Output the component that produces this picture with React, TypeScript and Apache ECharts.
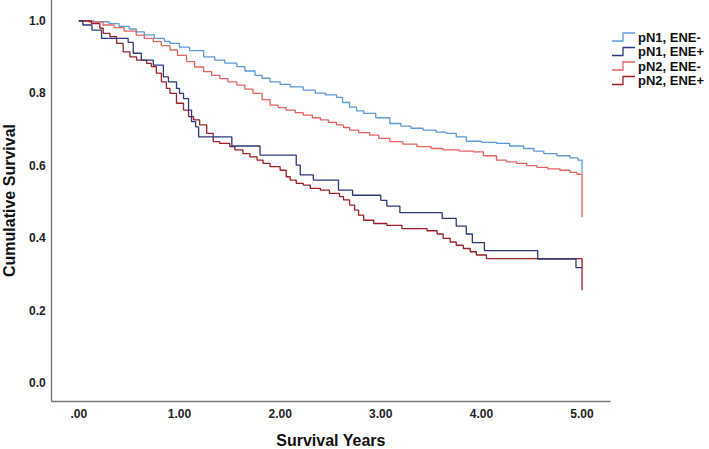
import React, { useEffect, useRef } from "react";
import * as echarts from "echarts";

const seriesNames = ["pN1, ENE-", "pN1, ENE+", "pN2, ENE-", "pN2, ENE+"];
const seriesColors = ["#5d9bd8", "#2b3b80", "#e46462", "#9e1f27"];

const xTicks = [0, 1, 2, 3, 4, 5];
const yTicks = [0, 0.2, 0.4, 0.6, 0.8, 1.0];

const pN1EneNeg: [number, number][] = [
  [0, 1.0], [0.15, 0.998], [0.3, 0.993], [0.4, 0.985], [0.5, 0.978], [0.57, 0.97],
  [0.65, 0.962], [0.75, 0.952], [0.85, 0.944], [0.905, 0.938], [1.0, 0.928], [1.1, 0.918],
  [1.24, 0.901], [1.35, 0.892], [1.45, 0.884], [1.57, 0.874], [1.65, 0.862], [1.75, 0.85],
  [1.82, 0.842], [1.9, 0.832], [2.0, 0.825], [2.1, 0.818], [2.23, 0.809], [2.35, 0.801],
  [2.45, 0.796], [2.56, 0.789], [2.62, 0.775], [2.69, 0.762], [2.76, 0.752], [2.83, 0.745],
  [2.95, 0.733], [3.09, 0.717], [3.2, 0.71], [3.3, 0.704], [3.42, 0.699], [3.55, 0.693],
  [3.65, 0.69], [3.75, 0.68], [3.85, 0.668], [4.0, 0.665], [4.15, 0.662], [4.28, 0.655],
  [4.42, 0.648], [4.52, 0.641], [4.62, 0.634], [4.75, 0.628], [4.88, 0.622], [4.96, 0.616],
  [5.0, 0.58],
];

const pN1EnePos: [number, number][] = [
  [0, 1.0], [0.04, 0.989], [0.13, 0.975], [0.225, 0.952], [0.49, 0.941], [0.54, 0.911],
  [0.62, 0.892], [0.74, 0.878], [0.84, 0.846], [0.89, 0.832], [0.97, 0.814], [1.0, 0.8],
  [1.04, 0.786], [1.09, 0.754], [1.12, 0.722], [1.16, 0.708], [1.19, 0.68], [1.52, 0.655],
  [1.8, 0.63], [2.16, 0.602], [2.2, 0.575], [2.33, 0.561], [2.58, 0.533], [2.72, 0.519],
  [3.0, 0.505], [3.06, 0.489], [3.19, 0.471], [3.61, 0.455], [3.75, 0.434], [3.85, 0.412],
  [3.91, 0.388], [4.03, 0.366], [4.56, 0.343], [4.94, 0.319], [5.0, 0.319],
];

const pN2EneNeg: [number, number][] = [
  [0, 1.0], [0.1, 0.997], [0.24, 0.989], [0.35, 0.982], [0.45, 0.972], [0.57, 0.961],
  [0.65, 0.952], [0.74, 0.943], [0.82, 0.932], [0.905, 0.92], [0.98, 0.905], [1.07, 0.888],
  [1.15, 0.873], [1.24, 0.86], [1.32, 0.85], [1.4, 0.841], [1.48, 0.832], [1.57, 0.823],
  [1.65, 0.812], [1.73, 0.8], [1.82, 0.783], [1.9, 0.768], [1.98, 0.761], [2.06, 0.754],
  [2.15, 0.747], [2.23, 0.74], [2.32, 0.733], [2.4, 0.727], [2.48, 0.72], [2.56, 0.713],
  [2.63, 0.706], [2.69, 0.699], [2.78, 0.692], [2.89, 0.685], [2.98, 0.676], [3.09, 0.667],
  [3.22, 0.66], [3.36, 0.653], [3.5, 0.648], [3.62, 0.644], [3.78, 0.641], [3.92, 0.639],
  [4.02, 0.628], [4.15, 0.616], [4.25, 0.611], [4.35, 0.607], [4.45, 0.601], [4.55, 0.596],
  [4.66, 0.592], [4.78, 0.588], [4.88, 0.582], [4.95, 0.577], [5.0, 0.458],
];

const pN2EnePos: [number, number][] = [
  [0, 1.0], [0.126, 0.993], [0.209, 0.98], [0.242, 0.966], [0.308, 0.957], [0.375, 0.938],
  [0.44, 0.915], [0.507, 0.901], [0.574, 0.892], [0.673, 0.883], [0.72, 0.874], [0.77, 0.856],
  [0.82, 0.832], [0.87, 0.814], [0.905, 0.8], [0.97, 0.773], [1.04, 0.754], [1.09, 0.736],
  [1.14, 0.727], [1.2, 0.713], [1.27, 0.69], [1.335, 0.667], [1.4, 0.662], [1.5, 0.653],
  [1.55, 0.644], [1.63, 0.634], [1.7, 0.625], [1.77, 0.616], [1.83, 0.607], [1.9, 0.598],
  [2.0, 0.588], [2.06, 0.57], [2.1, 0.561], [2.16, 0.552], [2.23, 0.547], [2.3, 0.538],
  [2.4, 0.533], [2.49, 0.524], [2.59, 0.515], [2.63, 0.506], [2.69, 0.492], [2.74, 0.478],
  [2.78, 0.464], [2.83, 0.45], [2.93, 0.441], [3.06, 0.436], [3.21, 0.427], [3.46, 0.421],
  [3.56, 0.412], [3.62, 0.4], [3.69, 0.39], [3.75, 0.381], [3.82, 0.372], [3.89, 0.363],
  [3.95, 0.354], [4.05, 0.344], [5.0, 0.344], [5.0, 0.257],
];

const seriesData = [pN1EneNeg, pN1EnePos, pN2EneNeg, pN2EnePos];
const drawOrder = [0, 2, 3, 1];

const FONT = 'Arial, "Liberation Sans", Helvetica, sans-serif';

export default function App() {
  const ref = useRef<HTMLDivElement>(null);
  useEffect(() => {
    if (!ref.current) return;
    const chart = echarts.init(ref.current, undefined, { renderer: "svg" });
    const legendItems = seriesNames.map((name, i) => ({
      type: "group",
      x: 612,
      y: 32 + i * 14.5,
      children: [
        {
          type: "polyline",
          shape: { points: [[0, 9], [11, 9], [11, 1], [23, 1]] },
          style: { stroke: seriesColors[i], lineWidth: 1.3, fill: "none" },
        },
        {
          type: "text",
          x: 26,
          y: 5,
          style: {
            text: name,
            fill: "#111",
            font: `bold 13px ${FONT}`,
            verticalAlign: "middle",
            align: "left",
          },
        },
      ],
    }));
    chart.setOption({
      animation: false,
      backgroundColor: "#fff",
      grid: {
        left: 51.7,
        right: 99,
        top: 0,
        bottom: 48,
        containLabel: false,
        outerBoundsMode: "none",
      },
      xAxis: {
        type: "value",
        min: -0.27,
        max: 5.278,
        name: "Survival Years",
        nameLocation: "middle",
        nameGap: 31,
        nameTextStyle: { fontFamily: FONT, fontWeight: "bold", fontSize: 16, color: "#111" },
        axisLine: { show: true, onZero: false, lineStyle: { color: "#777", width: 1.3 } },
        axisTick: { show: false },
        splitLine: { show: false },
        axisLabel: {
          customValues: xTicks,
          formatter: (v: number) => (v === 0 ? ".00" : v.toFixed(2)),
          fontFamily: FONT,
          fontWeight: "bold",
          fontSize: 12,
          color: "#222",
          margin: 7,
        },
      },
      yAxis: {
        type: "value",
        min: -0.049,
        max: 1.058,
        name: "Cumulative Survival",
        nameLocation: "middle",
        nameGap: 34,
        nameTextStyle: { fontFamily: FONT, fontWeight: "bold", fontSize: 16, color: "#111" },
        axisLine: { show: true, onZero: false, lineStyle: { color: "#777", width: 1.3 } },
        axisTick: { show: false },
        splitLine: { show: false },
        axisLabel: {
          customValues: yTicks,
          formatter: (v: number) => v.toFixed(1),
          fontFamily: FONT,
          fontWeight: "bold",
          fontSize: 12,
          color: "#222",
          margin: 6,
        },
      },
      series: drawOrder.map((i) => ({
        name: seriesNames[i],
        type: "line",
        step: "end",
        data: seriesData[i],
        showSymbol: false,
        symbol: "none",
        lineStyle: { color: seriesColors[i], width: 1.3 },
        itemStyle: { color: seriesColors[i] },
      })),
      graphic: legendItems,
    });
    return () => chart.dispose();
  }, []);
  return <div ref={ref} style={{ width: 709, height: 449, position: "absolute", left: 0, top: 0 }} />;
}
